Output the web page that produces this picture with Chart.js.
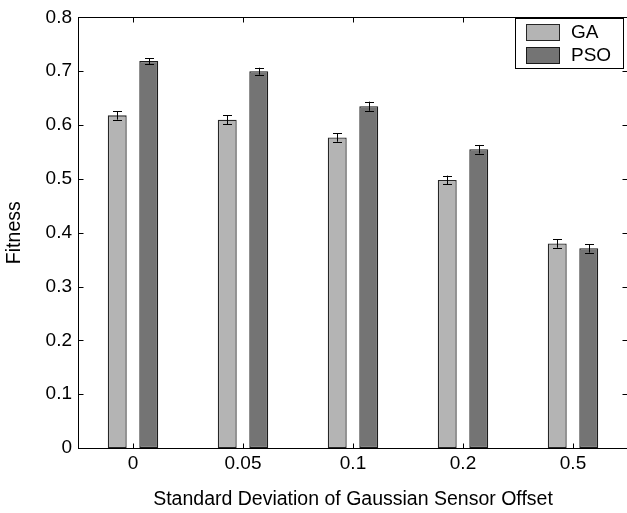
<!DOCTYPE html>
<html>
<head>
<meta charset="utf-8">
<script src="https://cdn.jsdelivr.net/npm/chart.js@4"></script>
<style>
  html, body { margin: 0; padding: 0; background: #fff; overflow: hidden; }
  canvas { display: block; }
</style>
</head>
<body>
<canvas id="myChart" width="630" height="513"></canvas>
<script>
const myChart = document.getElementById("myChart");

// desviacion estandar del offset del sensor
const categorias = ["0", "0.05", "0.1", "0.2", "0.5"];
const fitnessGA = [0.618, 0.610, 0.577, 0.498, 0.380];
const fitnessPSO = [0.719, 0.700, 0.635, 0.555, 0.371];
const errorGA = [0.008, 0.0085, 0.008, 0.008, 0.008];
const errorPSO = [0.0055, 0.0065, 0.0085, 0.008, 0.008];
const ticksY = [0, 0.1, 0.2, 0.3, 0.4, 0.5, 0.6, 0.7, 0.8];

const fuente = "'Liberation Sans', Arial, sans-serif";

// barras de error, caja y marcas hacia adentro (estilo matlab)
const estiloMatlab = {
  id: "estiloMatlab",
  afterDatasetsDraw(chart) {
    const { ctx, chartArea: area, scales } = chart;
    const y = scales.y;
    const x = scales.x;
    ctx.save();
    ctx.strokeStyle = "#000";
    ctx.lineWidth = 1;

    chart.data.datasets.forEach((ds, i) => {
      const meta = chart.getDatasetMeta(i);
      meta.data.forEach((bar, j) => {
        const err = ds.errores[j];
        const cx = Math.round(bar.x) + 0.5;
        const top = y.getPixelForValue(ds.data[j] + err);
        const bottom = y.getPixelForValue(ds.data[j] - err);
        ctx.beginPath();
        ctx.moveTo(cx, top);
        ctx.lineTo(cx, bottom);
        ctx.moveTo(cx - 4.5, Math.round(top) + 0.5);
        ctx.lineTo(cx + 4.5, Math.round(top) + 0.5);
        ctx.moveTo(cx - 4.5, Math.round(bottom) + 0.5);
        ctx.lineTo(cx + 4.5, Math.round(bottom) + 0.5);
        ctx.stroke();
      });
    });

    // caja
    const l = Math.round(area.left) + 0.5;
    const r = Math.round(area.right) - 0.5;
    const t = Math.round(area.top) + 0.5;
    const b = Math.round(area.bottom) + 0.5;
    ctx.strokeRect(l, t, r - l, b - t);

    // marcas
    ctx.beginPath();
    ticksY.forEach((v) => {
      const py = Math.round(y.getPixelForValue(v)) + 0.5;
      ctx.moveTo(l, py);
      ctx.lineTo(l + 5, py);
      ctx.moveTo(r, py);
      ctx.lineTo(r - 5, py);
    });
    categorias.forEach((c, j) => {
      const px = Math.round(x.getPixelForValue(j)) + 0.5;
      ctx.moveTo(px, b);
      ctx.lineTo(px, b - 5);
      ctx.moveTo(px, t);
      ctx.lineTo(px, t + 5);
    });
    ctx.stroke();

    // leyenda
    const lx = 515.5, ly = 18.5, lw = 108, lh = 50;
    ctx.fillStyle = "#fff";
    ctx.fillRect(lx, ly, lw, lh);
    ctx.strokeRect(lx, ly, lw, lh);
    ctx.font = "19px " + fuente;
    ctx.textBaseline = "middle";
    chart.data.datasets.forEach((ds, i) => {
      const sy = 24 + i * 23;
      ctx.fillStyle = ds.backgroundColor;
      ctx.fillRect(526, sy, 33, 16);
      ctx.strokeStyle = ds.borderColor;
      ctx.strokeRect(526.5, sy + 0.5, 33, 16);
      ctx.fillStyle = "#000";
      ctx.fillText(ds.label, 571, sy + 9);
    });
    ctx.restore();
  },
};

new Chart(myChart, {
  type: "bar",
  data: {
    labels: categorias,
    datasets: [
      {
        label: "GA",
        data: fitnessGA,
        errores: errorGA,
        backgroundColor: "#b4b4b4",
        borderColor: "#262626",
        borderWidth: 1.3,
        borderSkipped: false,
        inflateAmount: 0,
      },
      {
        label: "PSO",
        data: fitnessPSO,
        errores: errorPSO,
        backgroundColor: "#747474",
        borderColor: "#1a1a1a",
        borderWidth: 1.3,
        borderSkipped: false,
        inflateAmount: 0,
      },
    ],
  },
  options: {
    responsive: false,
    animation: false,
    categoryPercentage: 0.573,
    barPercentage: 0.6,
    layout: { padding: { top: 13, right: 2, left: 0, bottom: 0 } },
    plugins: {
      legend: { display: false },
      tooltip: { enabled: false },
    },
    scales: {
      x: {
        grid: { display: false, drawTicks: false },
        border: { display: false },
        ticks: { color: "#000", font: { family: fuente, size: 19 }, padding: 4 },
        title: {
          display: true,
          text: "Standard Deviation of Gaussian Sensor Offset",
          color: "#000",
          font: { family: fuente, size: 19.5 },
          padding: { top: 0, bottom: 2 },
        },
        afterFit(scale) {
          scale.height = 65;
        },
      },
      y: {
        min: 0,
        max: 0.8,
        afterBuildTicks(scale) {
          scale.ticks = ticksY.map((v) => ({ value: v }));
        },
        grid: { display: false, drawTicks: false },
        border: { display: false },
        ticks: {
          color: "#000",
          font: { family: fuente, size: 19 },
          padding: 6,
          callback: (v) => String(Math.round(v * 10) / 10),
        },
        title: {
          display: true,
          text: "Fitness",
          color: "#000",
          font: { family: fuente, size: 19.5 },
          padding: { top: 3, bottom: 0 },
        },
        afterFit(scale) {
          scale.width = 78;
        },
      },
    },
  },
  plugins: [estiloMatlab],
});
</script>
</body>
</html>
